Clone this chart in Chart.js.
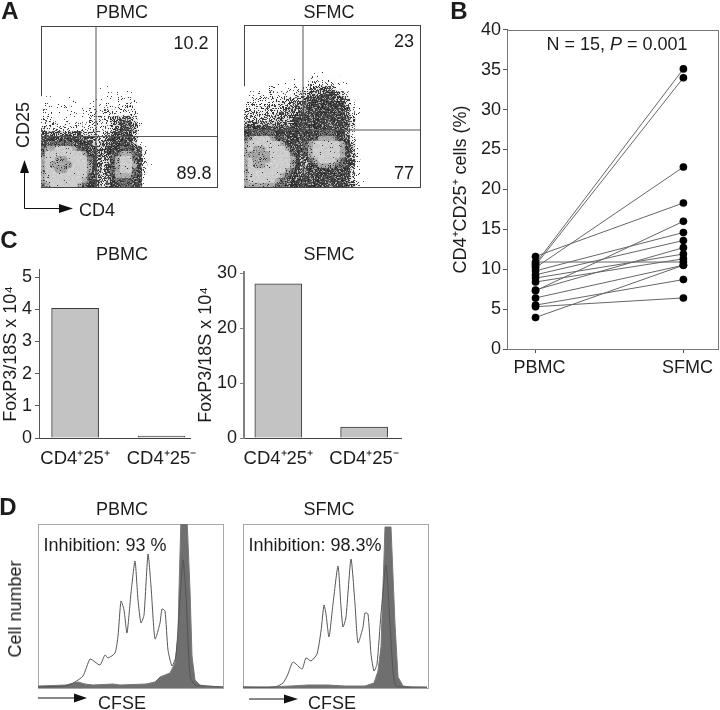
<!DOCTYPE html>
<html>
<head>
<meta charset="utf-8">
<script src="https://cdn.jsdelivr.net/npm/chart.js@4"></script>
<style>
  html, body { margin: 0; padding: 0; background: #fff; }
  #page { position: relative; width: 720px; height: 710px; overflow: hidden; font-family: "Liberation Sans", Arial, sans-serif; color: #1c1c1c; }
  canvas { position: absolute; }
  .lbl { position: absolute; white-space: nowrap; line-height: 1; will-change: transform; }
  svg { position: absolute; left: 0; top: 0; }
</style>
</head>
<body>
<div id="page">
  <svg width="720" height="710" fill="#111" stroke="#111" stroke-width="1">
    <path d="M24.5 172V208.5H60" fill="none"/>
    <path d="M24.5 160L29 173H20Z M73 208.5L59 213V204Z" stroke="none"/>
    <path d="M38 698H75" fill="none"/>
    <path d="M87 698L74 702.5V693.5Z" stroke="none"/>
    <path d="M249 699H285" fill="none"/>
    <path d="M298 699L284 703.5V694.5Z" stroke="none"/>
  </svg>
</div>
<script>
// Panel A: density, bottom row first, one char per 5px cell
// 0-6 = sparse to dense speckle, 7-9 = dark to light grey, a = blob core
const flowPbmcRows = [
  "7899999876654566776620",
  "8999999987654567776621",
  "8999999997654568887620",
  "899aa99998654578997630",
  "89aaaa9998654578998631",
  "899aa99997654578997631",
  "7999999986655567887630",
  "7889998766655666776620",
  "667777666654556666520",
  "666666666554456666510",
  "555555554443345666410",
  "43333333333333456653",
  "33322323233333456653",
  "32222222223333555542",
  "22222222222333333332",
  "22222222222233233331",
  "12112121111222222321",
  "11111111011122122220",
  "00000000100112111110",
  "00000000000011000010"
];
const flowSfmcRows = [
  "888888776666666666666531",
  "89999987665666666666631",
  "89999998766566666666641",
  "89999999876566666666641",
  "89aa9999986556788877652",
  "89aaa999986557899987652",
  "8aaaa999976568999998652",
  "89aa9999866678999998652",
  "89999998666678999998641",
  "78999877666666788876631",
  "66777766666666677766531",
  "66666666666666666666531",
  "55555555556666666666641",
  "44444455556666666666641",
  "44444445555666666666531",
  "33344444455566666666531",
  "33333344445566666666420",
  "22333333344456666655420",
  "12222333333445556654310",
  "110112222233344554320",
  "000000111122233333221",
  "00000000011012222211",
  "00000000000011111",
  "000000000000001"
];
const flowCols = 35.2, flowPbmcLines = 32.2, flowSfmcLines = 32.4;
const gatesPbmc = [11, 10.1], gatesSfmc = [11.8, 11.4];

// Panel B: paired percentages
const pairedCategories = ["PBMC", "SFMC"];
const pbmcPct = [10.7, 10.5, 10.2, 11.6, 7.3, 9.8, 9.3, 7.4, 8.9, 8.4, 10.9, 3.95, 6.4, 5.5, 5.3];
const sfmcPct = [35.1, 34, 22.8, 18.3, 16, 14.6, 13.6, 12.7, 11.9, 11.3, 10.9, 10.5, 10.5, 8.7, 6.4];

// Panel C
const barCategories = ["CD4⁺25⁺", "CD4⁺25⁻"];
const foxpPbmc = [4.03, 0.06];
const foxpSfmc = [28.1, 2.0];
const foxpPbmcTicks = [0, 1, 2, 3, 4, 5];
const foxpSfmcTicks = [0, 10, 20, 30];

// Panel D: CFSE histograms, channel and count
const d1OpenX = [0, 28, 37, 45, 52, 57, 62, 67, 70, 77, 80, 83, 86, 89, 93, 97, 100, 103, 106, 110, 113, 117, 122, 124, 127, 130, 134, 138, 145, 148, 152, 157, 168, 185];
const d1OpenY = [1, 2, 6, 12, 29, 26, 23, 33, 30, 35, 52, 87, 78, 55, 95, 127, 88, 65, 73, 134, 102, 49, 65, 79, 77, 38, 22, 32, 128, 92, 12, 3, 2, 1];
const d1FillX = [0, 28, 40, 47, 55, 75, 82, 108, 117, 122, 132, 137, 140, 141, 143, 149, 152, 154, 157, 162, 168, 185];
const d1FillY = [2, 3, 6, 4, 3, 4, 3, 4, 6, 11, 15, 25, 52, 98, 170, 170, 98, 32, 8, 3, 2, 1];
const d2OpenX = [0, 32, 40, 45, 50, 59, 63, 68, 74, 78, 81, 83, 86, 90, 95, 98, 100, 103, 108, 112, 115, 120, 122, 125, 128, 131, 134, 138, 143, 147, 150, 153, 162, 184];
const d2OpenY = [1, 1, 5, 14, 26, 19, 30, 27, 34, 57, 83, 74, 51, 84, 122, 81, 61, 71, 129, 84, 45, 61, 75, 74, 34, 17, 24, 74, 123, 64, 17, 2, 1, 1];
const d2FillX = [0, 25, 48, 65, 85, 102, 122, 131, 135, 138, 142, 148, 152, 155, 160, 168, 184];
const d2FillY = [1, 1, 2, 3, 3, 2, 2, 5, 17, 41, 161, 161, 64, 11, 2, 1, 0.5];

const page = document.getElementById("page");
const font = { family: '"Liberation Sans", Arial, sans-serif', size: 18 };
Chart.defaults.font.family = font.family;
Chart.defaults.color = "#1c1c1c";

function label(html, x, y, size, extra) {
  const d = document.createElement("div");
  d.className = "lbl";
  d.innerHTML = html;
  d.style.left = x + "px";
  d.style.top = y + "px";
  d.style.fontSize = (size || 18) + "px";
  d.style.transform = "translate(-50%,-50%)" + (extra || "");
  page.appendChild(d);
  return d;
}

// box around the plot area, and a soft focus on the dot plot cells
Chart.register({
  id: "frame",
  beforeDatasetsDraw(chart, args, opts) {
    if (!opts.color) return;
    const a = chart.chartArea, ctx = chart.ctx;
    ctx.save();
    ctx.strokeStyle = opts.color;
    ctx.lineWidth = 1;
    ctx.strokeRect(Math.round(a.left) + 0.5, Math.round(a.top) + 0.5, Math.round(a.width), Math.round(a.height));
    ctx.restore();
  },
  beforeDatasetDraw(chart, args, opts) {
    if (opts.soften && args.index === 2) chart.ctx.filter = "blur(0.5px)";
  },
  afterDatasetDraw(chart, args, opts) {
    if (opts.soften && args.index === 2) chart.ctx.filter = "none";
  }
});

// makes a canvas so that the plot area lands on box l,t,r,b of the page
function place(box, m) {
  const c = document.createElement("canvas");
  c.width = box.r - box.l + m.l + m.r;
  c.height = box.b - box.t + m.t + m.b;
  c.style.left = (box.l - m.l) + "px";
  c.style.top = (box.t - m.t) + "px";
  page.appendChild(c);
  return c;
}

// speckle tiles for the dot plot cells
function hash(x, y, k) {
  const s = Math.sin(x * 12.9898 + y * 78.233 + k * 37.719) * 43758.5453;
  return s - Math.floor(s);
}
function tile(dark, base, spread) {
  const n = 61, t = document.createElement("canvas");
  t.width = t.height = n;
  const g = t.getContext("2d");
  for (let y = 0; y < n; y++) for (let x = 0; x < n; x++) {
    let v = base + (hash(x, y, 3) - 0.5) * spread;
    if (hash(x, y, 1) < dark) v = 35 + hash(x, y, 2) * 60;
    v = Math.round(v);
    g.fillStyle = `rgb(${v},${v},${v})`;
    g.fillRect(x, y, 1, 1);
  }
  return g.createPattern(t, "repeat");
}
const levelFill = {
  1: tile(0.015, 255, 0), 2: tile(0.06, 253, 4), 3: tile(0.18, 248, 10), 4: tile(0.36, 238, 20),
  5: tile(0.6, 215, 40), 6: tile(0.82, 170, 50), 7: tile(0.4, 120, 50), 8: tile(0.1, 170, 40),
  9: tile(0.015, 205, 22), a: tile(0.1, 165, 40)
};
const levelOrder = "123456789a";

function flowPlot(box, rows, gates, yMax) {
  const cells = [];
  rows.forEach((row, r) => {
    [...row].forEach((ch, c) => {
      if (ch !== "0") cells.push({ x: c + 0.5, y: r + 0.5, ch });
    });
  });
  cells.sort((p, q) => levelOrder.indexOf(p.ch) - levelOrder.indexOf(q.ch));
  const fills = cells.map(p => levelFill[p.ch]);
  new Chart(place(box, { l: 1, r: 1, t: 1, b: 1 }), {
    type: "scatter",
    data: {
      datasets: [
        { data: [{ x: gates[0], y: 0 }, { x: gates[0], y: yMax }], showLine: true, borderColor: "#555", borderWidth: 1, pointRadius: 0 },
        { data: [{ x: 0, y: gates[1] }, { x: flowCols, y: gates[1] }], showLine: true, borderColor: "#555", borderWidth: 1, pointRadius: 0 },
        { data: cells, pointStyle: "circle", pointRadius: 3.8, pointBorderWidth: 0, pointBackgroundColor: fills }
      ]
    },
    options: {
      responsive: false, animation: false, events: [],
      layout: { padding: 1, autoPadding: false },
      plugins: { legend: { display: false }, tooltip: { enabled: false }, frame: { color: "#444", soften: true } },
      scales: {
        x: { type: "linear", display: false, min: 0, max: flowCols },
        y: { type: "linear", display: false, min: 0, max: yMax }
      }
    }
  });
}

function fixedAxis(scale, prop, v) { scale[prop] = v; }

function barPlot(box, ml, values, yMax, yTicks, xRange, axisColor, axisWidth) {
  new Chart(place(box, { l: ml, r: 14, t: 8, b: 34 }), {
    type: "bar",
    data: {
      datasets: [{
        data: values.map((v, i) => ({ x: i + 1, y: v })),
        backgroundColor: "#c3c3c3", borderColor: "#3a3a3a", borderWidth: 1, barThickness: 47
      }]
    },
    options: {
      responsive: false, animation: false, events: [],
      layout: { padding: { top: 8, right: 14 }, autoPadding: false },
      plugins: { legend: { display: false }, tooltip: { enabled: false } },
      scales: {
        x: {
          type: "linear", min: xRange[0], max: xRange[1], offset: false,
          afterBuildTicks: s => { s.ticks = [{ value: 1 }, { value: 2 }]; },
          afterFit: s => fixedAxis(s, "height", 34),
          grid: { display: false, drawTicks: false },
          border: { color: "#444", width: 1 },
          ticks: { font: { size: 18.5 }, padding: 10, autoSkip: false, maxRotation: 0, callback: v => barCategories[v - 1] }
        },
        y: {
          min: 0, max: yMax,
          afterBuildTicks: s => { s.ticks = yTicks.map(value => ({ value })); },
          afterFit: s => fixedAxis(s, "width", ml),
          grid: { drawOnChartArea: false, tickLength: 4, color: axisColor },
          border: { color: axisColor, width: axisWidth },
          ticks: { font: { size: 18 }, padding: 3 },
          title: { display: true, text: "FoxP3/18S x 10⁴", font, padding: { top: 0, bottom: 0 } }
        }
      }
    }
  });
}

function histPlot(box, openX, openY, fillX, fillY, xMax) {
  const pts = (xs, ys) => xs.map((x, i) => ({ x, y: ys[i] }));
  new Chart(place(box, { l: 1, r: 1, t: 1, b: 1 }), {
    type: "scatter",
    data: {
      datasets: [
        { data: pts(openX, openY), showLine: true, borderColor: "#555", borderWidth: 1, pointRadius: 0, tension: 0.2 },
        { data: pts(fillX, fillY), showLine: true, borderColor: "#777", borderWidth: 1, backgroundColor: "#6f6f6f", fill: "origin", pointRadius: 0 }
      ]
    },
    options: {
      responsive: false, animation: false, events: [],
      layout: { padding: 1, autoPadding: false },
      plugins: { legend: { display: false }, tooltip: { enabled: false }, frame: { color: "#a8a8a8" } },
      scales: {
        x: { type: "linear", display: false, min: 0, max: xMax },
        y: { type: "linear", display: false, min: 0, max: 164 }
      }
    }
  });
}

// Panel A
flowPlot({ l: 41, r: 217, t: 26, b: 187 }, flowPbmcRows, gatesPbmc, flowPbmcLines);
flowPlot({ l: 244, r: 420, t: 25, b: 187 }, flowSfmcRows, gatesSfmc, flowSfmcLines);

// Panel B
new Chart(place({ l: 507, r: 718, t: 25, b: 349 }, { l: 67, r: 2, t: 8, b: 32 }), {
  type: "scatter",
  data: {
    datasets: [
      { data: pbmcPct.map(v => ({ x: 0, y: v })), backgroundColor: "#000", pointRadius: 3.8 },
      { data: sfmcPct.map(v => ({ x: 1, y: v })), backgroundColor: "#000", pointRadius: 3.8 },
      ...pbmcPct.map((v, i) => ({
        data: [{ x: 0, y: v }, { x: 1, y: sfmcPct[i] }],
        showLine: true, borderColor: "#666", borderWidth: 1, pointRadius: 0
      }))
    ]
  },
  options: {
    responsive: false, animation: false, events: [],
    layout: { padding: { top: 8, right: 2 }, autoPadding: false },
    plugins: { legend: { display: false }, tooltip: { enabled: false }, frame: { color: "#777" } },
    scales: {
      x: {
        type: "linear", min: -0.193, max: 1.234,
        afterBuildTicks: s => { s.ticks = [{ value: 0 }, { value: 1 }]; },
        afterFit: s => fixedAxis(s, "height", 32),
        grid: { drawOnChartArea: false, tickLength: 4, color: "#555" },
        border: { color: "#555" },
        ticks: { font: { size: 18 }, padding: 4, autoSkip: false, maxRotation: 0, labelOffset: 4, callback: v => pairedCategories[v] }
      },
      y: {
        min: 0, max: 40,
        afterFit: s => fixedAxis(s, "width", 67),
        grid: { drawOnChartArea: false, tickLength: 4, color: "#555" },
        border: { color: "#555" },
        ticks: { font: { size: 18 }, padding: 2, stepSize: 5 },
        title: { display: true, text: "CD4⁺CD25⁺ cells (%)", font: { size: 18 }, padding: { top: 10, bottom: 0 } }
      }
    }
  }
});

// Panel C
barPlot({ l: 39, r: 195, t: 264, b: 438 }, 39, foxpPbmc, 5.225, foxpPbmcTicks, [0.582, 2.339], "#555", 1);
barPlot({ l: 244, r: 401, t: 266, b: 438 }, 49, foxpSfmc, 30.3, foxpSfmcTicks, [0.6, 2.43], "#808080", 2);

// Panel D
histPlot({ l: 38, r: 223, t: 524, b: 688 }, d1OpenX, d1OpenY, d1FillX, d1FillY, 185);
histPlot({ l: 243, r: 428, t: 524, b: 688 }, d2OpenX, d2OpenY, d2FillX, d2FillY, 185);

// Text
[["A", 9.5, 11], ["B", 459, 11], ["C", 8.5, 240], ["D", 8, 507]].forEach(([t, x, y]) => {
  label(t, x, y, 24).style.fontWeight = "bold";
});
[[122, 12], [329, 12], [122, 254], [329, 254], [122, 509], [329, 509]].forEach(([x, y], i) => {
  label(i % 2 ? "SFMC" : "PBMC", x, y);
});
label("10.2", 191, 43);
label("89.8", 194, 173);
label("23", 404, 41);
label("77", 404, 173);
label("CD25", 22.5, 125, 18, " rotate(-90deg)");
label("CD4", 97, 210);
label("N = 15, <i>P</i> = 0.001", 617, 44);
label("Inhibition: 93 %", 105, 545);
label("Inhibition: 98.3%", 315, 545);
label("Cell number", 15, 609, 18, " rotate(-90deg)");
label("CFSE", 122, 702.5);
label("CFSE", 331.5, 703);
</script>
</body>
</html>
